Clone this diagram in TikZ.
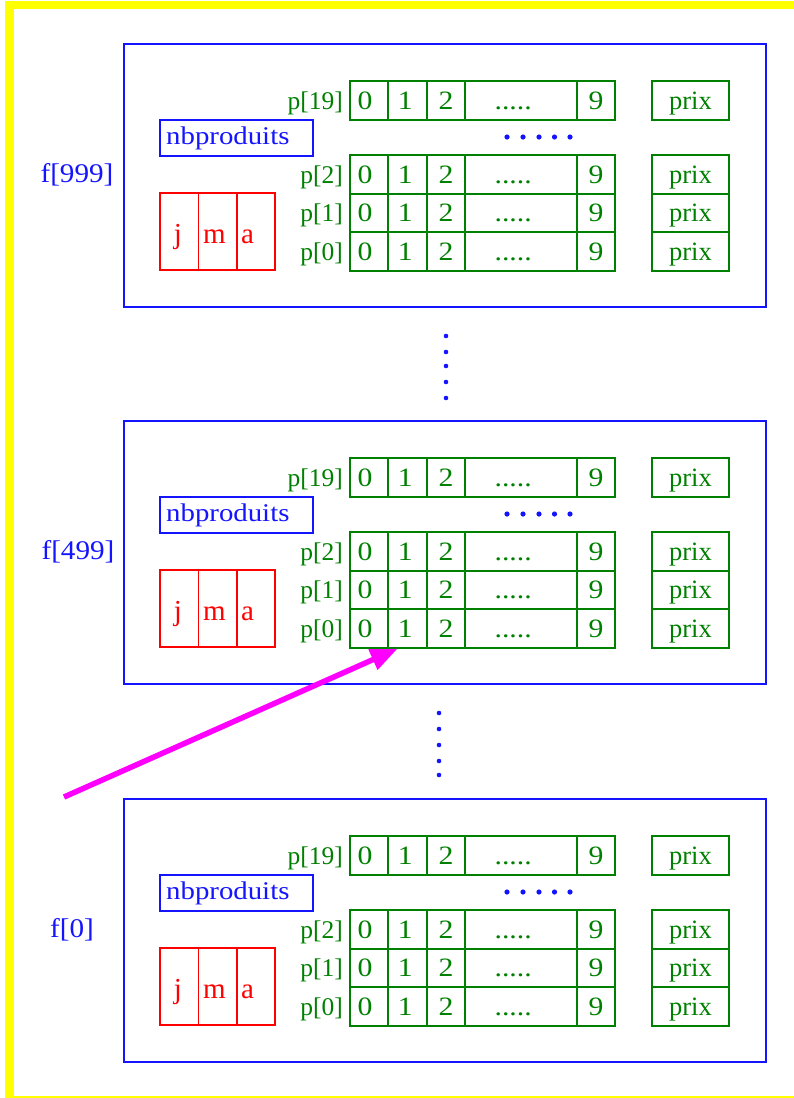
\documentclass[tikz,border=0pt]{standalone}
\usepackage{fontspec}
\setmainfont{Liberation Serif}
\usetikzlibrary{arrows.meta}
\definecolor{fblue}{RGB}{20,20,255}
\definecolor{pgreen}{RGB}{0,128,0}
\definecolor{dred}{RGB}{255,0,0}
\definecolor{ptrmag}{RGB}{255,0,255}
\definecolor{frameyel}{RGB}{255,255,0}
\tikzset{
  blk/.style={draw=fblue, line width=1.8pt, minimum width=642pt, minimum height=263pt, inner sep=0pt},
  pcell/.style={draw=pgreen, line width=1.8pt, text=pgreen, minimum height=38.5pt, inner sep=0pt,
                text height=17.5pt, text depth=0pt, font=\fontsize{26.5}{30}\selectfont},
  dcell/.style={draw=dred, line width=1.5pt, minimum width=38.3pt, minimum height=77pt, inner sep=0pt},
  dtxt/.style={text=dred, anchor=base, inner sep=0pt, font=\fontsize{29}{34}\selectfont},
  nbbox/.style={draw=fblue, line width=1.8pt, minimum width=153pt, minimum height=36pt, inner sep=0pt},
  flabel/.style={text=fblue, inner sep=0pt, font=\fontsize{27}{32}\selectfont},
  plabel/.style={text=pgreen, anchor=east, inner sep=0pt, text height=17pt, text depth=0pt},
  bdot/.style={fill=fblue},
  ptrarrow/.style={draw=ptrmag, line width=5.5pt, -{Triangle[length=27pt,width=21pt]}},
}
\begin{document}
\begin{tikzpicture}[x=1pt, y=-1pt, font=\fontsize{25.5}{30}\selectfont]
\useasboundingbox (0,0) rectangle (794,1098);
% partly cut-off yellow frame
\fill[frameyel] (5,0.5) rectangle (794,9);
\fill[frameyel] (5,0.5) rectangle (14,1098);
\fill[frameyel] (5,1096) rectangle (794,1098);

% the three records f[999], f[499], f[0]
\foreach \off/\lab/\lx/\k in {44/{f[999]}/77/t, 421/{f[499]}/78/m, 799/{f[0]}/72/b}{
  \begin{scope}[shift={(0,\off)}]
    \node[blk] (blk\k) at (445,131.5) {};
    \node[flabel] (lab\k) at (\lx,131) {\scalebox{1.08}[1]{\lab}};
    \node[nbbox] (nb\k) at (236.5,94) {};
    \node[text=fblue, anchor=west, inner sep=0pt] (nbt\k) at (166,94) {\scalebox{1.13}[1]{nbproduits}};
    % date cells j m a
    \node[dcell] (dj\k) at (179.35,187.5) {};
    \node[dcell] (dm\k) at (217.7,187.5) {};
    \node[dcell] (da\k) at (255.85,187.5) {};
    \node[dtxt] (tj\k) at (178,199.3) {j};
    \node[dtxt] (tm\k) at (214.5,199.3) {m};
    \node[dtxt] (ta\k) at (247.5,199.3) {a};
    % product rows p[19], p[2], p[1], p[0]
    \foreach \r/\cy in {19/56.5, 2/130.5, 1/169, 0/207.5}{
      \node[plabel] (pl\k-\r) at (343,\cy) {p[\r]};
      \foreach \c/\cx/\w/\t in {0/369/38/{\hspace*{-7pt}0}, 1/407.5/39/{\hspace*{-4pt}1}, 2/446/38/2, 3/521/112/{\hspace*{-14pt}.....}, 4/596/38/9}{
        \node[pcell, minimum width=\w pt] (c\k-\r-\c) at (\cx,\cy) {\scalebox{1.12}[1]{\t}};
      }
      \node[pcell, minimum width=77pt] (prix\k-\r) at (690.5,\cy) {prix};
    }
    % elided rows
    \foreach \dx in {507,523,539,554.5,570}{
      \fill[bdot] (\dx,93) circle (2.6pt);
    }
  \end{scope}
}

% elided records
\foreach \dy in {336,352,366,382,398}{
  \fill[bdot] (446,\dy) circle (2.3pt);
}
\foreach \dy in {713,729,745,761,775}{
  \fill[bdot] (439,\dy) circle (2.3pt);
}

% pointer to an element of f[499]
\coordinate (ptr) at (64,797);
\draw[ptrarrow] (ptr) -- ([xshift=10.5pt]cm-0-1.south west);
\end{tikzpicture}
\end{document}
